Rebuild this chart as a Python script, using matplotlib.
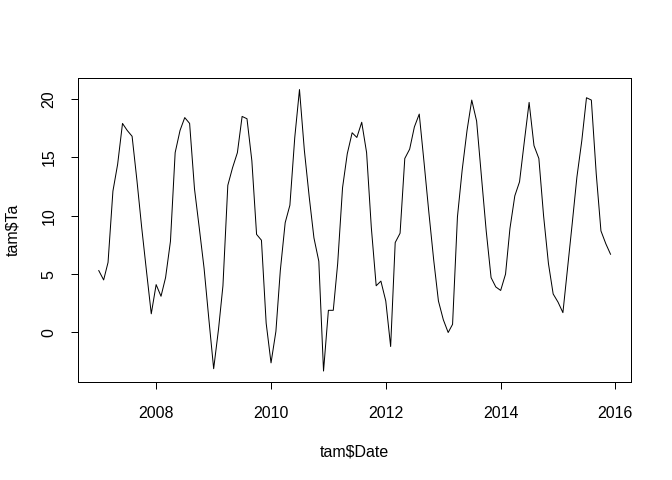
import matplotlib
matplotlib.use("Agg")
import matplotlib.pyplot as plt
import matplotlib.dates as mdates
from matplotlib.ticker import MultipleLocator
import pandas as pd

# monthly mean temperature, Jan 2007 .. Dec 2015
ta_2007 = [5.3, 4.5, 6.0, 12.1, 14.4, 17.9, 17.3, 16.8, 13.0, 9.0, 5.2, 1.6]
ta_2008 = [4.1, 3.1, 4.7, 7.8, 15.4, 17.3, 18.4, 17.9, 12.3, 9.0, 5.5, 1.2]
ta_2009 = [-3.1, 0.3, 4.0, 12.6, 14.1, 15.4, 18.5, 18.3, 14.7, 8.4, 7.9, 0.8]
ta_2010 = [-2.6, 0.1, 5.3, 9.4, 10.9, 16.7, 20.8, 15.6, 11.6, 8.1, 6.1, -3.3]
ta_2011 = [1.9, 1.9, 5.9, 12.4, 15.3, 17.1, 16.7, 18.0, 15.4, 9.0, 4.0, 4.4]
ta_2012 = [2.7, -1.2, 7.7, 8.5, 14.9, 15.7, 17.6, 18.7, 14.5, 10.3, 6.2, 2.7]
ta_2013 = [1.1, 0.0, 0.7, 9.9, 13.9, 17.3, 19.9, 18.1, 13.3, 8.7, 4.7, 3.9]
ta_2014 = [3.6, 5.0, 8.9, 11.7, 12.9, 16.4, 19.7, 16.0, 14.9, 10.0, 5.9, 3.3]
ta_2015 = [2.6, 1.7, 5.3, 9.3, 13.3, 16.4, 20.1, 19.9, 13.6, 8.7, 7.6, 6.7]

ta = ta_2007 + ta_2008 + ta_2009 + ta_2010 + ta_2011 + ta_2012 + ta_2013 + ta_2014 + ta_2015
dates = pd.date_range("2007-01-01", periods=len(ta), freq="MS")

plt.rcParams["font.family"] = ["Liberation Sans", "DejaVu Sans"]
plt.rcParams["font.size"] = 12

fig = plt.figure(figsize=(7, 5), dpi=96)
ax = fig.add_axes([78.3 / 672, 1 - 382.3 / 480, (631 - 78.3) / 672, (382.3 - 78.3) / 480])

ax.plot(dates, ta, color="black", linewidth=0.75)
ax.margins(x=0.04, y=0.04)

ax.xaxis.set_major_locator(mdates.YearLocator(2))
ax.xaxis.set_major_formatter(mdates.DateFormatter("%Y"))
ax.yaxis.set_major_locator(MultipleLocator(5))

for s in ax.spines.values():
    s.set_linewidth(0.75)
ax.tick_params(direction="out", length=5.3, width=0.75, pad=11)
ax.tick_params(axis="x", pad=12.5)
plt.setp(ax.get_yticklabels(), rotation=90, va="center")

ax.set_xlabel("tam$Date", labelpad=17.5)
ax.set_ylabel("tam$Ta", labelpad=16)

fig.savefig("out.png", dpi=96)
